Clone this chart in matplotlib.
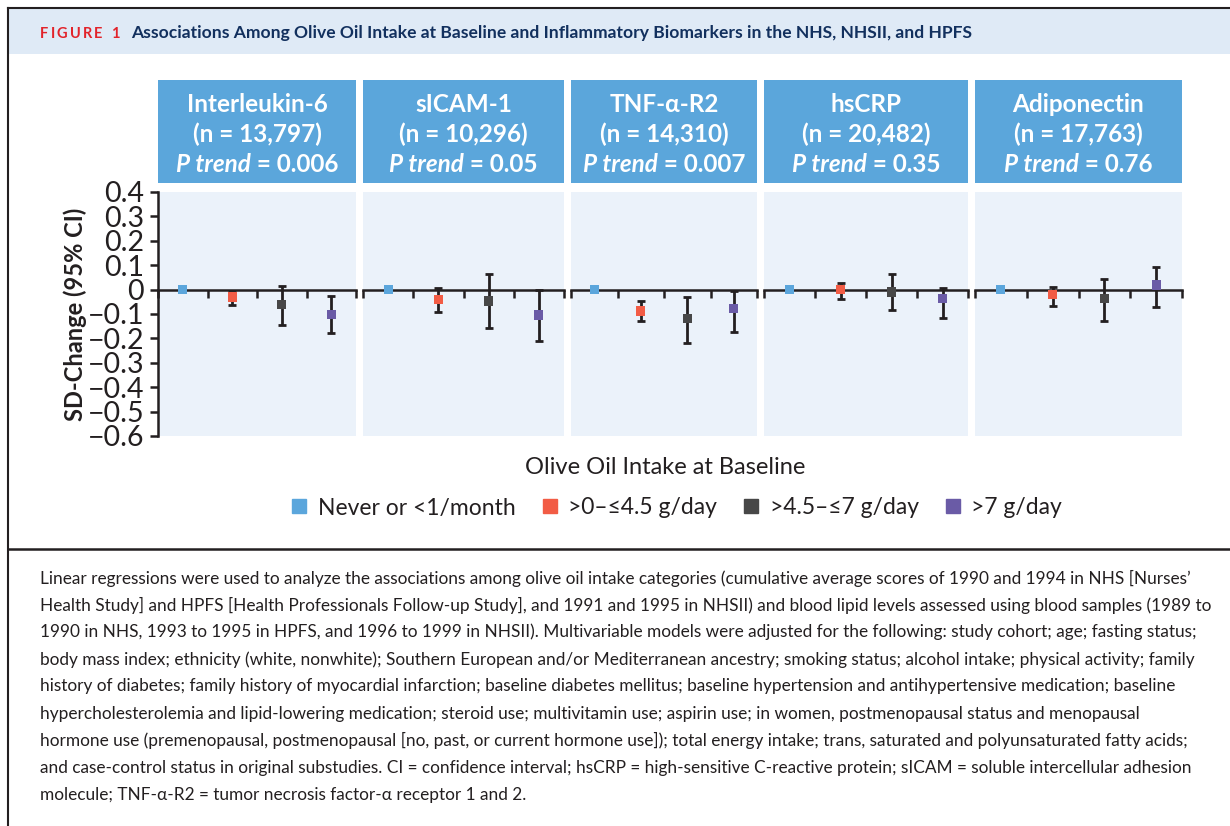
import matplotlib.pyplot as plt
from matplotlib.lines import Line2D
from matplotlib.patches import Rectangle
from matplotlib.offsetbox import TextArea, HPacker, VPacker, AnnotationBbox
import numpy as np

plt.rcParams['font.family'] = ['Lato', 'DejaVu Sans']

# data
categories = ["Never or <1/month", ">0–≤4.5 g/day", ">4.5–≤7 g/day", ">7 g/day"]
biomarkers = ["Interleukin-6", "sICAM-1", "TNF-α-R2", "hsCRP", "Adiponectin"]
n_values = ["13,797", "10,296", "14,310", "20,482", "17,763"]
p_trend = ["0.006", "0.05", "0.007", "0.35", "0.76"]

estimate = [
    [0, -0.030, -0.060, -0.103],
    [0, -0.042, -0.047, -0.104],
    [0, -0.088, -0.120, -0.079],
    [0, -0.001, -0.010, -0.038],
    [0, -0.021, -0.038, 0.019],
]
ci_low = [
    [np.nan, -0.064, -0.145, -0.176],
    [np.nan, -0.092, -0.156, -0.212],
    [np.nan, -0.127, -0.219, -0.174],
    [np.nan, -0.037, -0.083, -0.115],
    [np.nan, -0.066, -0.127, -0.070],
]
ci_high = [
    [np.nan, -0.006, 0.014, -0.027],
    [np.nan, 0.007, 0.064, -0.003],
    [np.nan, -0.048, -0.030, -0.004],
    [np.nan, 0.029, 0.064, 0.007],
    [np.nan, 0.010, 0.042, 0.093],
]
yticks = [0.4, 0.3, 0.2, 0.1, 0, -0.1, -0.2, -0.3, -0.4, -0.5, -0.6]

title = "Associations Among Olive Oil Intake at Baseline and Inflammatory Biomarkers in the NHS, NHSII, and HPFS"
caption_lines = [
    "Linear regressions were used to analyze the associations among olive oil intake categories (cumulative average scores of 1990 and 1994 in NHS [Nurses’",
    "Health Study] and HPFS [Health Professionals Follow-up Study], and 1991 and 1995 in NHSII) and blood lipid levels assessed using blood samples (1989 to",
    "1990 in NHS, 1993 to 1995 in HPFS, and 1996 to 1999 in NHSII). Multivariable models were adjusted for the following: study cohort; age; fasting status;",
    "body mass index; ethnicity (white, nonwhite); Southern European and/or Mediterranean ancestry; smoking status; alcohol intake; physical activity; family",
    "history of diabetes; family history of myocardial infarction; baseline diabetes mellitus; baseline hypertension and antihypertensive medication; baseline",
    "hypercholesterolemia and lipid-lowering medication; steroid use; multivitamin use; aspirin use; in women, postmenopausal status and menopausal",
    "hormone use (premenopausal, postmenopausal [no, past, or current hormone use]); total energy intake; trans, saturated and polyunsaturated fatty acids;",
    "and case-control status in original substudies. CI = confidence interval; hsCRP = high-sensitive C-reactive protein; sICAM = soluble intercellular adhesion",
    "molecule; TNF-α-R2 = tumor necrosis factor-α receptor 1 and 2.",
]

colors = ["#5BA6DC", "#F25C45", "#474747", "#6A5BA6"]
ink = "#231F20"
W, H = 1230, 826

# panel columns in pixels
panel_x = [(158, 356), (363, 564), (571, 757), (764, 968), (975, 1182)]


def rect(x0, y0, x1, y1):
    return [x0 / W, 1 - y1 / H, (x1 - x0) / W, (y1 - y0) / H]


fig = plt.figure(figsize=(W / 100, H / 100), dpi=100)

# background layer in pixel coordinates
bg = fig.add_axes([0, 0, 1, 1], zorder=-1)
bg.set_xlim(0, W)
bg.set_ylim(H, 0)
bg.axis('off')
bg.add_patch(Rectangle((9, 9), W - 9, 45, color="#DFEAF6", lw=0))
bg.plot([8, W], [8, 8], color=ink, lw=1.5)
bg.plot([8, 8], [8, H], color=ink, lw=1.5)
bg.plot([8, W], [549, 549], color=ink, lw=1.8)

fig_label = HPacker(children=[TextArea(ch, textprops=dict(color="#E2232A", fontsize=10.5, fontweight='bold'))
                              for ch in "FIGURE 1"], pad=0, sep=1.6)
title_box = HPacker(children=[fig_label,
                              TextArea(title, textprops=dict(color="#12305E", fontsize=12.6, fontweight='bold'))],
                    pad=0, sep=9)
bg.add_artist(AnnotationBbox(title_box, (40, 33), xycoords='data', box_alignment=(0, 0.5),
                             frameon=False, pad=0))

for k, line in enumerate(caption_lines):
    bg.text(40, 578 + 27.1 * k, line, fontsize=12.4, va='center', color=ink)

xpos = np.arange(4) + 0.5
for i, (x0, x1) in enumerate(panel_x):
    # header box
    hax = fig.add_axes(rect(x0, 80, x1, 183))
    hax.set_facecolor("#5BA6DB")
    hax.set_xticks([])
    hax.set_yticks([])
    for s in hax.spines.values():
        s.set_visible(False)
    tp = dict(color='white', fontsize=17.5, fontweight='bold')
    trend = HPacker(children=[TextArea("P trend", textprops=dict(tp, style='italic')),
                              TextArea(" = " + p_trend[i], textprops=tp)], pad=0, sep=0)
    head = VPacker(children=[TextArea(biomarkers[i], textprops=tp),
                             TextArea("(n = " + n_values[i] + ")", textprops=tp),
                             trend], align='center', pad=0, sep=5)
    hax.add_artist(AnnotationBbox(head, (0.5, 0.47), xycoords='axes fraction',
                                  frameon=False, pad=0))

    # data panel
    ax = fig.add_axes(rect(x0, 192, x1, 436))
    ax.set_facecolor("#EBF2FA")
    ax.set_xlim(0, 4)
    ax.set_ylim(-0.6, 0.4)
    for s in ['top', 'right']:
        ax.spines[s].set_visible(False)
    ax.spines['bottom'].set_position(('data', 0))
    ax.spines['bottom'].set_linewidth(1.8)
    ax.spines['bottom'].set_color(ink)
    ax.set_xticks(range(5))
    ax.tick_params(axis='x', direction='out', length=6, width=1.8, color=ink, labelbottom=False)

    est = np.array(estimate[i])
    lo = np.array(ci_low[i])
    hi = np.array(ci_high[i])
    m = ~np.isnan(lo)
    ax.errorbar(xpos[m], est[m], yerr=[est[m] - lo[m], hi[m] - est[m]], fmt='none',
                ecolor=ink, elinewidth=2.0, capsize=3, capthick=2.0, zorder=2.8)
    ax.scatter(xpos, est, marker='s', s=44, c=colors, linewidths=0, zorder=3)

    if i == 0:
        ax.spines['left'].set_linewidth(1.8)
        ax.spines['left'].set_color(ink)
        ax.set_yticks(yticks)
        ax.set_yticklabels(["0" if v == 0 else f"{v:.1f}".replace("-", "−") for v in yticks])
        ax.tick_params(axis='y', direction='out', length=6, width=1.8, color=ink,
                       labelsize=20.5, labelcolor=ink, pad=4)
        ax.set_ylabel("SD-Change (95% CI)", fontsize=17, fontweight='bold', color=ink, labelpad=0)
    else:
        ax.spines['left'].set_visible(False)
        ax.set_yticks([])

fig.text(665 / W, 1 - 468 / H, "Olive Oil Intake at Baseline", ha='center', va='center',
         fontsize=17, color=ink)
handles = [Line2D([], [], marker='s', ls='none', color=c, markersize=10.5) for c in colors]
fig.legend(handles, categories, loc='center', bbox_to_anchor=(676 / W, 1 - 508 / H), ncol=4,
           frameon=False, fontsize=16.5, handletextpad=0.4, columnspacing=1.1, handlelength=0.8,
           labelcolor=ink)

fig.savefig("out.png", dpi=100, facecolor='white')
